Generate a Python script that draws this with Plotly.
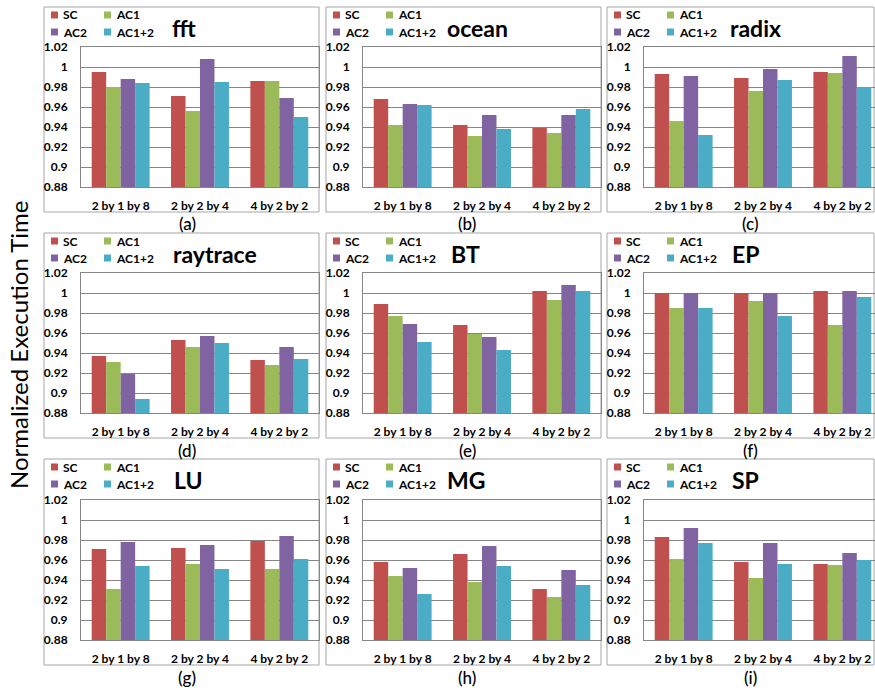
import plotly.graph_objects as go

# ---------------- data ----------------
categories = ["2 by 1 by 8", "2 by 2 by 4", "4 by 2 by 2"]
series_names = ["SC", "AC1", "AC2", "AC1+2"]
series_colors = ["#C0504D", "#9BBB59", "#8064A2", "#4BACC6"]
benchmarks = ["fft", "ocean", "radix", "raytrace", "BT", "EP", "LU", "MG", "SP"]
panel_labels = ["(a)", "(b)", "(c)", "(d)", "(e)", "(f)", "(g)", "(h)", "(i)"]
ytick_vals = [0.88, 0.90, 0.92, 0.94, 0.96, 0.98, 1.00, 1.02]
ytick_text = ["0.88", "0.9", "0.92", "0.94", "0.96", "0.98", "1", "1.02"]
y_title = "Normalized Execution Time"

# values per benchmark (rows) and configuration (columns)
sc_values = [
    [0.995, 0.971, 0.986],  # fft
    [0.968, 0.942, 0.939],  # ocean
    [0.993, 0.989, 0.995],  # radix
    [0.937, 0.953, 0.933],  # raytrace
    [0.989, 0.968, 1.002],  # BT
    [1.000, 1.000, 1.002],  # EP
    [0.971, 0.972, 0.979],  # LU
    [0.958, 0.966, 0.931],  # MG
    [0.983, 0.958, 0.956],  # SP
]
ac1_values = [
    [0.980, 0.956, 0.986],
    [0.942, 0.931, 0.934],
    [0.946, 0.976, 0.994],
    [0.931, 0.946, 0.928],
    [0.977, 0.959, 0.993],
    [0.985, 0.992, 0.968],
    [0.931, 0.956, 0.951],
    [0.944, 0.938, 0.923],
    [0.961, 0.942, 0.955],
]
ac2_values = [
    [0.988, 1.008, 0.969],
    [0.963, 0.952, 0.952],
    [0.991, 0.998, 1.011],
    [0.919, 0.957, 0.946],
    [0.969, 0.956, 1.008],
    [1.000, 1.000, 1.002],
    [0.978, 0.975, 0.984],
    [0.952, 0.974, 0.950],
    [0.992, 0.977, 0.967],
]
ac12_values = [
    [0.984, 0.985, 0.950],
    [0.962, 0.938, 0.958],
    [0.932, 0.987, 0.980],
    [0.894, 0.950, 0.934],
    [0.951, 0.943, 1.002],
    [0.985, 0.977, 0.996],
    [0.954, 0.951, 0.961],
    [0.926, 0.954, 0.935],
    [0.977, 0.956, 0.960],
]
all_series = [sc_values, ac1_values, ac2_values, ac12_values]

# ---------------- layout geometry (pixels) ----------------
W, H = 875, 690
frame_x = [(44, 319), (326, 601), (607, 874)]
plot_x = [(81, 319), (363, 601), (644, 875)]
cat_w = 238 / 3.0
frame_y = [(7, 212), (233, 438), (459, 665)]
plot_y = [(47, 187), (273, 413), (500, 640)]
title_cx = [[184, 477, 755], [215, 465, 745], [188, 466, 745]]
caption_cx = [187, 467, 750]
caption_cy = [224, 450, 677]
legend_col_dx = [7, 60]      # square left offsets from frame left
legend_row_dy = [8, 25]      # square centre offsets from frame top
SQ = 7


def px(x):
    return x / W


def py(y):
    return 1 - y / H


FONT = "Lato, 'Open Sans', sans-serif"
fig = go.Figure()
shapes = []
annotations = []

for i, bench in enumerate(benchmarks):
    r, c = divmod(i, 3)
    n = i + 1
    xa = "x" if n == 1 else f"x{n}"
    ya = "y" if n == 1 else f"y{n}"
    for s, name in enumerate(series_names):
        fig.add_trace(go.Bar(
            x=categories, y=all_series[s][i], name=name,
            marker=dict(color=series_colors[s], line=dict(width=0)),
            xaxis=xa, yaxis=ya, showlegend=False,
        ))
    x0, x1 = plot_x[c]
    y0, y1 = plot_y[r]
    rng_hi = -0.5 + (x1 - x0) / cat_w
    xkey = "xaxis" if n == 1 else f"xaxis{n}"
    ykey = "yaxis" if n == 1 else f"yaxis{n}"
    fig.layout[xkey] = dict(
        domain=[px(x0), px(x1)], anchor=ya, type="category",
        range=[-0.5, rng_hi], showline=True, linecolor="#868686", linewidth=1,
        mirror=True, ticks="", showgrid=False, automargin=False,
        tickfont=dict(family=FONT, size=12, color="#000", weight="bold"),
        ticklabelstandoff=8, fixedrange=True,
    )
    fig.layout[ykey] = dict(
        domain=[py(y1), py(y0)], anchor=xa, range=[0.88, 1.02],
        tickvals=ytick_vals, ticktext=ytick_text, automargin=False,
        showline=True, linecolor="#868686", linewidth=1, mirror=True,
        showgrid=True, gridcolor="#868686", gridwidth=1, zeroline=False,
        tickfont=dict(family=FONT, size=12, color="#000", weight="bold"),
        ticklabelstandoff=10, fixedrange=True,
    )
    fx0, fx1 = frame_x[c]
    fy0, fy1 = frame_y[r]
    shapes.append(dict(type="rect", xref="paper", yref="paper",
                       x0=px(fx0), x1=px(fx1), y0=py(fy1), y1=py(fy0),
                       line=dict(color="#A6A6A6", width=1), layer="below"))
    # legend (square + label), laid out in two columns like the reference
    for s, name in enumerate(series_names):
        col = s % 2
        row = s // 2
        sx = fx0 + legend_col_dx[col]
        sy = fy0 + legend_row_dy[row]
        shapes.append(dict(type="rect", xref="paper", yref="paper",
                           x0=px(sx), x1=px(sx + SQ), y0=py(sy + SQ / 2), y1=py(sy - SQ / 2),
                           line=dict(width=0), fillcolor=series_colors[s]))
        annotations.append(dict(
            text=name, xref="paper", yref="paper", x=px(sx + SQ + 3), y=py(sy),
            xanchor="left", yanchor="middle", showarrow=False,
            font=dict(family=FONT, size=12, color="#000", weight="bold"),
        ))
    annotations.append(dict(
        text=bench, xref="paper", yref="paper",
        x=px(title_cx[r][c]), y=py(fy0 + 21), xanchor="center", yanchor="middle",
        showarrow=False, font=dict(family=FONT, size=23, color="#000", weight="bold"),
    ))
    annotations.append(dict(
        text=panel_labels[i], xref="paper", yref="paper",
        x=px(caption_cx[c]), y=py(caption_cy[r]), xanchor="center", yanchor="middle",
        showarrow=False, borderpad=0,
        font=dict(family=FONT, size=17, color="#000", weight=500),
    ))

annotations.append(dict(
    text=y_title, xref="paper", yref="paper", x=px(18), y=py(345),
    xanchor="center", yanchor="middle", textangle=-90, showarrow=False,
    font=dict(family=FONT, size=24, color="#000"),
))

fig.update_layout(
    width=W, height=H, margin=dict(l=0, r=0, t=0, b=0, autoexpand=False),
    paper_bgcolor="white", plot_bgcolor="white",
    barmode="group", bargap=0.27, bargroupgap=0.0,
    shapes=shapes, annotations=annotations, showlegend=False,
)

# remove the browser's default 8px page margin so the figure fills the window
fig.write_html(
    "out.html",
    config={"displayModeBar": False},
    post_script="document.body.style.margin='0';document.body.style.overflow='hidden';",
)
